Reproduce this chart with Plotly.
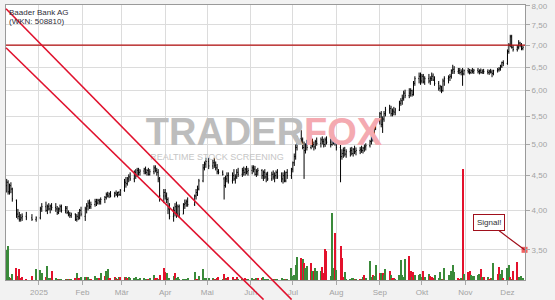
import math
import pandas as pd
import plotly.graph_objects as go

# ---------------- data ----------------
holidays = ["2024-12-24", "2024-12-25", "2024-12-26", "2024-12-31", "2025-01-01",
            "2025-04-18", "2025-04-21", "2025-05-01"]
dates = [d for d in pd.bdate_range("2024-12-09", "2025-12-12")
         if d.strftime("%Y-%m-%d") not in holidays]

open_ = [
    4.35, 4.40, 4.26, 4.35, 4.30,
    4.14, 3.95, 3.92, 3.88, 3.90,
    3.92, 3.90,
    3.88, 3.90, 4.02,
    4.05, 4.00, 4.05, 4.02, 4.06,
    4.04, 4.02, 3.97, 4.02, 4.05,
    4.00, 4.03, 3.97, 3.95, 3.93,
    3.95, 3.88, 3.92, 3.90, 4.00,
    3.92, 4.02, 4.06, 4.10, 4.05,
    4.08, 4.12, 4.10, 4.14, 4.12,
    4.15, 4.18, 4.22, 4.20, 4.23,
    4.20, 4.24, 4.22, 4.25, 4.22,
    4.28, 4.40, 4.38, 4.45, 4.48,
    4.45, 4.55, 4.50, 4.58, 4.55,
    4.57, 4.60, 4.55, 4.58, 4.52,
    4.56, 4.62, 4.58, 4.55, 4.45,
    4.20, 4.25, 4.20, 4.15, 4.02,
    3.92, 4.00, 4.05, 3.95, 4.05,
    3.95, 4.08, 4.10, 4.12,
    4.08, 4.20, 4.25, 4.30,
    4.42, 4.62, 4.68, 4.72,
    4.65, 4.70, 4.66, 4.62, 4.56,
    4.55, 4.45, 4.35, 4.45, 4.50,
    4.42, 4.50, 4.45, 4.48, 4.55,
    4.52, 4.58, 4.55, 4.60, 4.56,
    4.58, 4.62, 4.60, 4.52, 4.56,
    4.58, 4.50, 4.55, 4.48, 4.52,
    4.45, 4.52, 4.48, 4.50, 4.55,
    4.48, 4.45, 4.50, 4.42, 4.55,
    4.50, 4.60, 4.70, 4.80, 4.95,
    5.10, 5.08, 4.95, 4.90, 5.00,
    4.95, 5.02, 5.00, 4.96, 5.05,
    5.02, 5.08, 5.05, 5.00, 5.08,
    5.04, 5.00, 5.15, 5.05, 5.02,
    4.95, 4.80, 4.85, 4.90, 4.84,
    4.88, 4.90, 4.85, 4.92, 4.88,
    4.90, 4.92, 4.90, 4.94, 4.96,
    4.98, 5.05, 5.12, 5.20, 5.30,
    5.40, 5.55, 5.35, 5.45, 5.55,
    5.62, 5.65, 5.55, 5.60, 5.58,
    5.62, 5.75, 5.80, 5.85, 5.95,
    5.90, 5.95, 6.00, 5.92, 6.15,
    6.25, 6.30, 6.20, 6.30, 6.18,
    6.25, 6.20, 6.25, 6.30, 6.22,
    6.15, 6.05, 6.08, 6.00, 6.20,
    6.25, 6.28, 6.30, 6.42, 6.45,
    6.40, 6.42, 6.38, 6.40, 6.35,
    6.42, 6.40, 6.38, 6.42, 6.40,
    6.43, 6.40, 6.42, 6.38, 6.41,
    6.40, 6.38, 6.41, 6.39, 6.36,
    6.42, 6.44, 6.46, 6.52, 6.60,
    6.58, 6.85, 7.00, 7.20, 6.95,
    6.90, 6.95, 7.05, 7.00, 6.92,
]
high = [
    4.45, 4.43, 4.38, 4.40, 4.32,
    4.15, 4.02, 3.98, 3.95, 3.96,
    3.98, 3.95,
    3.92, 4.05, 4.10,
    4.12, 4.08, 4.10, 4.08, 4.10,
    4.10, 4.06, 4.04, 4.08, 4.08,
    4.06, 4.06, 4.00, 3.98, 3.97,
    3.96, 3.95, 3.98, 4.02, 4.05,
    4.05, 4.10, 4.14, 4.15, 4.12,
    4.16, 4.16, 4.16, 4.16, 4.18,
    4.20, 4.25, 4.26, 4.25, 4.27,
    4.26, 4.28, 4.26, 4.27, 4.30,
    4.45, 4.48, 4.48, 4.52, 4.55,
    4.58, 4.60, 4.62, 4.62, 4.60,
    4.62, 4.64, 4.60, 4.62, 4.60,
    4.66, 4.66, 4.62, 4.60, 4.48,
    4.30, 4.30, 4.25, 4.18, 4.10,
    4.05, 4.10, 4.12, 4.08, 4.08,
    4.10, 4.15, 4.15, 4.18,
    4.22, 4.30, 4.35, 4.45,
    4.68, 4.72, 4.78, 4.78,
    4.75, 4.78, 4.72, 4.68, 4.60,
    4.58, 4.48, 4.50, 4.55, 4.55,
    4.55, 4.60, 4.52, 4.60, 4.62,
    4.62, 4.64, 4.62, 4.65, 4.62,
    4.66, 4.66, 4.65, 4.60, 4.62,
    4.60, 4.58, 4.60, 4.55, 4.56,
    4.56, 4.58, 4.55, 4.58, 4.60,
    4.55, 4.55, 4.58, 4.56, 4.60,
    4.62, 4.72, 4.85, 5.00, 5.15,
    5.25, 5.12, 5.05, 5.02, 5.08,
    5.08, 5.10, 5.05, 5.08, 5.12,
    5.12, 5.14, 5.10, 5.12, 5.14,
    5.10, 5.25, 5.18, 5.12, 5.06,
    5.00, 4.92, 4.95, 4.96, 4.92,
    4.95, 4.96, 4.94, 4.98, 4.95,
    4.96, 4.98, 4.96, 5.00, 5.02,
    5.08, 5.15, 5.22, 5.35, 5.45,
    5.58, 5.60, 5.50, 5.60, 5.68,
    5.72, 5.70, 5.65, 5.68, 5.66,
    5.80, 5.85, 5.92, 6.00, 6.02,
    6.05, 6.05, 6.02, 6.20, 6.30,
    6.38, 6.38, 6.35, 6.35, 6.30,
    6.35, 6.30, 6.38, 6.36, 6.30,
    6.20, 6.12, 6.10, 6.25, 6.30,
    6.32, 6.35, 6.45, 6.55, 6.52,
    6.48, 6.48, 6.45, 6.48, 6.45,
    6.48, 6.46, 6.45, 6.48, 6.46,
    6.48, 6.45, 6.47, 6.45, 6.46,
    6.45, 6.44, 6.46, 6.44, 6.44,
    6.48, 6.50, 6.55, 6.62, 6.65,
    6.90, 7.05, 7.25, 7.25, 7.00,
    7.00, 7.12, 7.08, 7.05, 6.98,
]
low = [
    4.25, 4.22, 4.22, 4.24, 4.12,
    3.90, 3.88, 3.85, 3.85, 3.86,
    3.87, 3.86,
    3.85, 3.88, 3.98,
    3.98, 3.95, 4.00, 3.96, 4.00,
    3.98, 3.94, 3.95, 3.98, 3.97,
    3.96, 3.95, 3.92, 3.90, 3.90,
    3.86, 3.85, 3.87, 3.88, 3.92,
    3.86, 3.96, 4.00, 4.02, 4.02,
    4.05, 4.06, 4.08, 4.08, 4.08,
    4.10, 4.15, 4.18, 4.17, 4.18,
    4.18, 4.20, 4.18, 4.20, 4.20,
    4.26, 4.32, 4.35, 4.40, 4.42,
    4.40, 4.45, 4.48, 4.50, 4.50,
    4.52, 4.52, 4.50, 4.50, 4.50,
    4.52, 4.55, 4.50, 4.40, 4.12,
    4.10, 4.15, 4.10, 3.95, 3.88,
    3.85, 3.92, 3.90, 3.92, 3.90,
    3.95, 4.02, 4.05, 4.05,
    4.06, 4.15, 4.20, 4.28,
    4.40, 4.58, 4.62, 4.60,
    4.60, 4.62, 4.58, 4.52, 4.52,
    4.50, 4.15, 4.32, 4.40, 4.38,
    4.38, 4.42, 4.38, 4.45, 4.48,
    4.48, 4.50, 4.50, 4.52, 4.50,
    4.52, 4.55, 4.50, 4.48, 4.50,
    4.45, 4.42, 4.45, 4.40, 4.42,
    4.42, 4.44, 4.40, 4.45, 4.45,
    4.40, 4.38, 4.40, 4.40, 4.45,
    4.45, 4.55, 4.65, 4.75, 4.90,
    5.00, 4.92, 4.45, 4.85, 4.90,
    4.92, 4.95, 4.90, 4.92, 4.98,
    4.95, 5.00, 4.95, 4.96, 5.00,
    4.95, 4.98, 5.00, 4.98, 4.90,
    4.40, 4.75, 4.78, 4.80, 4.78,
    4.80, 4.82, 4.80, 4.84, 4.82,
    4.84, 4.86, 4.85, 4.88, 4.90,
    4.95, 5.00, 5.05, 5.15, 5.25,
    5.35, 5.30, 5.20, 5.40, 5.50,
    5.55, 5.50, 5.50, 5.52, 5.52,
    5.60, 5.70, 5.72, 5.80, 5.85,
    5.85, 5.88, 5.88, 5.90, 6.10,
    6.15, 6.12, 6.15, 6.15, 6.12,
    6.15, 6.12, 6.20, 6.20, 6.10,
    6.00, 5.98, 5.95, 5.98, 6.10,
    6.15, 6.20, 6.25, 6.35, 6.35,
    6.35, 6.34, 6.32, 6.10, 6.32,
    6.36, 6.34, 6.35, 6.36, 6.35,
    6.36, 6.34, 6.36, 6.35, 6.35,
    6.34, 6.33, 6.36, 6.28, 6.32,
    6.38, 6.40, 6.42, 6.48, 6.52,
    6.55, 6.80, 6.95, 6.92, 6.85,
    6.85, 6.90, 6.95, 6.88, 6.88,
]
close = [
    4.40, 4.26, 4.35, 4.30, 4.16,
    3.95, 3.92, 3.88, 3.90, 3.92,
    3.90, 3.88,
    3.90, 4.02, 4.05,
    4.00, 4.05, 4.02, 4.06, 4.04,
    4.02, 3.97, 4.02, 4.05, 4.00,
    4.03, 3.97, 3.95, 3.93, 3.95,
    3.88, 3.92, 3.90, 4.00, 3.95,
    4.02, 4.06, 4.10, 4.05, 4.08,
    4.12, 4.10, 4.14, 4.12, 4.15,
    4.18, 4.22, 4.20, 4.23, 4.20,
    4.24, 4.22, 4.25, 4.22, 4.28,
    4.40, 4.38, 4.45, 4.48, 4.45,
    4.55, 4.50, 4.58, 4.55, 4.57,
    4.60, 4.55, 4.58, 4.52, 4.56,
    4.62, 4.58, 4.55, 4.45, 4.20,
    4.25, 4.20, 4.15, 4.02, 3.92,
    4.00, 4.05, 3.95, 4.05, 3.95,
    4.08, 4.10, 4.12, 4.08,
    4.20, 4.25, 4.30, 4.42,
    4.62, 4.68, 4.72, 4.65,
    4.70, 4.66, 4.62, 4.56, 4.55,
    4.52, 4.35, 4.45, 4.50, 4.42,
    4.50, 4.45, 4.48, 4.55, 4.52,
    4.58, 4.55, 4.60, 4.56, 4.58,
    4.62, 4.60, 4.52, 4.56, 4.58,
    4.50, 4.55, 4.48, 4.52, 4.45,
    4.52, 4.48, 4.50, 4.55, 4.48,
    4.45, 4.50, 4.42, 4.55, 4.50,
    4.60, 4.70, 4.80, 4.95, 5.10,
    5.08, 4.95, 4.90, 5.00, 4.95,
    5.02, 5.00, 4.96, 5.05, 5.02,
    5.08, 5.05, 5.00, 5.08, 5.04,
    5.00, 5.15, 5.05, 5.02, 4.95,
    4.80, 4.85, 4.90, 4.84, 4.88,
    4.90, 4.85, 4.92, 4.88, 4.90,
    4.92, 4.90, 4.94, 4.96, 4.98,
    5.05, 5.12, 5.20, 5.30, 5.40,
    5.55, 5.35, 5.45, 5.55, 5.62,
    5.65, 5.55, 5.60, 5.58, 5.62,
    5.75, 5.80, 5.85, 5.95, 5.90,
    5.95, 6.00, 5.92, 6.15, 6.25,
    6.30, 6.20, 6.30, 6.18, 6.25,
    6.20, 6.25, 6.30, 6.22, 6.15,
    6.05, 6.08, 6.00, 6.20, 6.25,
    6.28, 6.30, 6.42, 6.45, 6.40,
    6.42, 6.38, 6.40, 6.35, 6.42,
    6.40, 6.38, 6.42, 6.40, 6.43,
    6.40, 6.42, 6.38, 6.41, 6.40,
    6.38, 6.41, 6.39, 6.36, 6.42,
    6.44, 6.46, 6.52, 6.60, 6.58,
    6.85, 7.00, 7.20, 6.95, 6.90,
    6.95, 7.05, 7.00, 6.92, 6.95,
]
volume = [
    30, 34, 3, 2, 6,
    12, 4, 11, 2, 3,
    1, 4,
    11, 10, 7,
    3, 14, 2, 2, 9,
    2, 1, 1, 1, 1,
    1, 1, 1, 1, 1,
    2, 7, 2, 2, 3,
    3, 3, 3, 1, 1,
    4, 2, 2, 2, 7,
    4, 9, 11, 2, 2,
    3, 2, 1, 3, 3,
    3, 3, 2, 3, 2,
    2, 3, 1, 1, 2,
    2, 1, 1, 1, 2,
    5, 2, 2, 1, 5,
    12, 8, 7, 1, 2,
    4, 7, 2, 3, 1,
    1, 1, 1, 2,
    8, 1, 1, 4,
    11, 2, 2, 2,
    2, 1, 1, 2, 3,
    1, 6, 2, 2, 3,
    3, 1, 1, 3, 1,
    1, 1, 2, 1, 1,
    2, 1, 1, 2, 2,
    2, 3, 1, 1, 1,
    1, 1, 1, 1, 1,
    2, 1, 1, 1, 1,
    12, 4, 5, 15, 23,
    22, 21, 17, 12, 14,
    17, 9, 9, 12, 9,
    9, 13, 7, 31, 29,
    4, 67, 12, 47, 10,
    34, 22, 3, 8, 1,
    1, 2, 2, 1, 1,
    1, 1, 3, 5, 2,
    19, 3, 5, 4, 15,
    7, 7, 7, 5, 11,
    9, 5, 2, 2, 1,
    5, 20, 5, 3, 21,
    24, 9, 3, 8, 5,
    5, 6, 3, 9, 3,
    6, 4, 3, 2, 5,
    2, 8, 1, 1, 12,
    5, 3, 9, 15, 8,
    2, 1, 2, 111, 6,
    8, 9, 5, 4, 4,
    5, 6, 11, 3, 3,
    3, 1, 2, 2, 17,
    6, 13, 6, 10, 2,
    12, 15, 3, 1, 9,
    18, 3, 3, 4, 2,
]
volume_dir = (
    "gggrg" "rgrrr" "rr" "ggg" "rggg r" "ggrgg" "grgrg" "rgrrg" "grggr" "gggrg"
    "rggrr" "rgrgr" "rgrgg" "ggggg" "gggrg" "grrgr" "rrggg" "grggg" "gggg" "grrg"
    "gggg" "grgrr" "grgrr" "rgrrg" "grrrg" "ggrgr" "rgggg" "ggrgg" "gggrg" "ggggg"
    "rgrgg" "rgrgg" "grrrr" "gggrg" "rrrgg" "gggrg" "rggrg" "ggrgg" "rgrgg" "rgrrg"
    "ggggg" "rrgrg" "gggrg" "grrrg" "gggrg" "ggggg" "rrgrg" "rrggg" "ggrgr" "grrgg"
    "rrggr" "ggrgr" "rgggg"
).replace(" ", "")

months = ["2025-01-01", "2025-02-01", "2025-03-01", "2025-04-01", "2025-05-01", "2025-06-01",
          "2025-07-01", "2025-08-01", "2025-09-01", "2025-10-01", "2025-11-01", "2025-12-01"]
month_labels = ["2025", "Feb", "Mär", "Apr", "Mai", "Jun", "Jul", "Aug", "Sep", "Okt", "Nov", "Dez"]
price_ticks = [3.5, 4.0, 4.5, 5.0, 5.5, 6.0, 6.5, 7.0, 7.5, 8.0]
price_tick_labels = ["3,50", "4,00", "4,50", "5,00", "5,50", "6,00", "6,50", "7,00", "7,50", "8,00"]

resistance = 7.0
channel_upper_dates = ["2024-12-08 12:00", "2025-06-30 03:00"]
channel_upper_prices = [7.92, 2.957]
channel_lower_dates = ["2024-12-08 12:00", "2025-06-10 03:00"]
channel_lower_prices = [6.94, 2.957]
signal_date = "2025-12-13 04:00"
signal_level = 3.5

title_line1 = "Baader Bank AG"
title_line2 = "(WKN: 508810)"

# ---------------- layout helpers ----------------
W, H = 555, 300
ML, MR, MT, MB = 6, 30, 5, 20
PW, PH = W - ML - MR, H - MT - MB
x_range = [pd.Timestamp("2024-12-08 12:00"), pd.Timestamp("2025-12-13 12:00")]
y_lo, y_hi = math.log10(3.16), math.log10(8.02)


def date_to_paper(d):
    d = pd.Timestamp(d)
    return (d - x_range[0]) / (x_range[1] - x_range[0])


def price_to_paper(p):
    return (math.log10(p) - y_lo) / (y_hi - y_lo)


def px_to_date(px):
    return x_range[0] + (px - ML) / PW * (x_range[1] - x_range[0])


def py_to_price(py):
    return 10 ** (y_hi - (py - MT) / PH * (y_hi - y_lo))


assert len(dates) == len(open_) == len(high) == len(low) == len(close) == len(volume) == len(volume_dir)

GREEN = "#3a8a3a"
RED = "#e3112c"
vol_colors = [GREEN if c == "g" else RED for c in volume_dir]

fig = go.Figure()

# watermark (logo text) drawn first, below everything
fig.add_trace(go.Scatter(
    x=[px_to_date(264)], y=[py_to_price(135)], mode="text",
    text=["<b><span style='color:#bdbdbd'>TRADER</span><span style='color:#f4aab1'>FOX</span></b>"],
    textfont=dict(family="Liberation Sans, Arial", size=38),
    hoverinfo="skip", showlegend=False, cliponaxis=False))
fig.add_trace(go.Scatter(
    x=[px_to_date(217)], y=[py_to_price(158)], mode="text",
    text=["REALTIME STOCK SCREENING"],
    textfont=dict(family="Liberation Sans, Arial", size=9, color="#c6c6c6"),
    hoverinfo="skip", showlegend=False, cliponaxis=False))

# resistance line
fig.add_trace(go.Scatter(
    x=[x_range[0], x_range[1]], y=[resistance, resistance], mode="lines",
    line=dict(color="#b40f0f", width=1.2), hoverinfo="skip", showlegend=False))

# price bars
fig.add_trace(go.Ohlc(
    x=dates, open=open_, high=high, low=low, close=close,
    increasing_line_color="black", decreasing_line_color="black",
    line=dict(width=1), tickwidth=0.5, hoverinfo="skip", showlegend=False))

# volume
fig.add_trace(go.Bar(
    x=dates, y=volume, marker=dict(color=vol_colors, line=dict(width=0)),
    width=0.75 * 86400000, yaxis="y2", hoverinfo="skip", showlegend=False))

# signal marker
fig.add_trace(go.Scatter(
    x=[signal_date], y=[signal_level], mode="markers",
    marker=dict(symbol="square", size=6, color="rgba(240,70,70,0.85)"),
    cliponaxis=False, hoverinfo="skip", showlegend=False))

shapes = []
for ds, ps in [(channel_upper_dates, channel_upper_prices), (channel_lower_dates, channel_lower_prices)]:
    shapes.append(dict(type="line", xref="paper", yref="paper",
                       x0=date_to_paper(ds[0]), y0=price_to_paper(ps[0]),
                       x1=date_to_paper(ds[1]), y1=price_to_paper(ps[1]),
                       line=dict(color="#e0122e", width=1.6), layer="above"))

annotations = [
    dict(xref="paper", yref="paper", x=0, y=(H - MB - 12.6) / PH, xanchor="left", yanchor="middle",
         xshift=1, text=title_line1, showarrow=False,
         font=dict(family="Liberation Sans, Arial", size=8, color="#2e2e3a")),
    dict(xref="paper", yref="paper", x=0, y=(H - MB - 21.2) / PH, xanchor="left", yanchor="middle",
         xshift=1, text=title_line2, showarrow=False,
         font=dict(family="Liberation Sans, Arial", size=8, color="#2e2e3a")),
    dict(xref="paper", yref="paper", x=date_to_paper(signal_date), y=price_to_paper(signal_level),
         text="Signal!", showarrow=True, arrowhead=0, arrowwidth=1.2, arrowcolor="#a0101c",
         ax=-36, ay=-27, bgcolor="white", bordercolor="#a0101c", borderwidth=1, borderpad=3,
         font=dict(family="Liberation Sans, Arial", size=8, color="#333333")),
]

axis_font = dict(family="Liberation Sans, Arial", size=8, color="#a3a3a3")
fig.update_layout(
    template="none",
    width=W, height=H,
    margin=dict(l=ML, r=MR, t=MT, b=MB, pad=0),
    paper_bgcolor="#f2f2f2", plot_bgcolor="white",
    showlegend=False, bargap=0,
    shapes=shapes, annotations=annotations,
    xaxis=dict(type="date", range=x_range, tickvals=months, ticktext=month_labels,
               ticks="outside", ticklen=4, tickcolor="#a8a8a8", tickwidth=1,
               showgrid=True, gridcolor="#dcdcdc", gridwidth=1,
               showline=True, linecolor="#9a9a9a", linewidth=1, mirror=True,
               zeroline=False, tickfont=axis_font, automargin=False,
               rangeslider=dict(visible=False), fixedrange=True),
    yaxis=dict(type="log", range=[y_lo, y_hi], side="right",
               tickvals=price_ticks, ticktext=price_tick_labels,
               ticks="outside", ticklen=4, tickcolor="#a8a8a8", tickwidth=1,
               showgrid=True, gridcolor="#dcdcdc", gridwidth=1,
               showline=True, linecolor="#9a9a9a", linewidth=1, mirror=True,
               zeroline=False, tickfont=axis_font, automargin=False, fixedrange=True),
    yaxis2=dict(overlaying="y", range=[0, PH], visible=False, showgrid=False,
                zeroline=False, fixedrange=True),
)

fig.write_html("out.html")
